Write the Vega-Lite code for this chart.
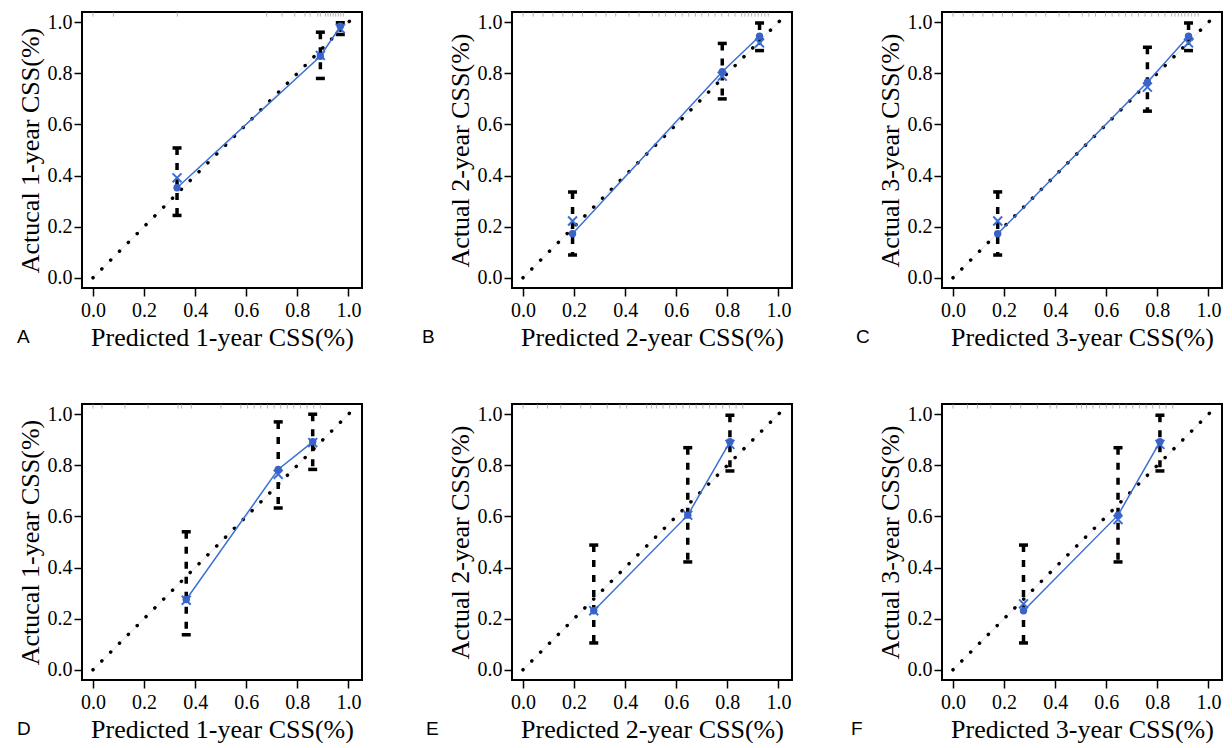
{
  "$schema": "https://vega.github.io/schema/vega-lite/v6.json",
  "background": "white",
  "padding": {"left": 15, "top": 11, "right": 5, "bottom": 0},
  "datasets": {
    "pts": [
      {"panel": "A", "pred": 0.329, "obs": 0.352, "corr": 0.391, "lo": 0.244, "hi": 0.508},
      {"panel": "A", "pred": 0.890, "obs": 0.867, "corr": 0.870, "lo": 0.780, "hi": 0.961},
      {"panel": "A", "pred": 0.968, "obs": 0.984, "corr": 0.975, "lo": 0.952, "hi": 0.998},
      {"panel": "B", "pred": 0.194, "obs": 0.172, "corr": 0.222, "lo": 0.089, "hi": 0.336},
      {"panel": "B", "pred": 0.780, "obs": 0.806, "corr": 0.789, "lo": 0.700, "hi": 0.917},
      {"panel": "B", "pred": 0.926, "obs": 0.945, "corr": 0.919, "lo": 0.889, "hi": 0.997},
      {"panel": "C", "pred": 0.175, "obs": 0.172, "corr": 0.222, "lo": 0.089, "hi": 0.336},
      {"panel": "C", "pred": 0.761, "obs": 0.765, "corr": 0.746, "lo": 0.652, "hi": 0.902},
      {"panel": "C", "pred": 0.922, "obs": 0.945, "corr": 0.919, "lo": 0.889, "hi": 0.997},
      {"panel": "D", "pred": 0.365, "obs": 0.275, "corr": 0.272, "lo": 0.137, "hi": 0.540},
      {"panel": "D", "pred": 0.725, "obs": 0.784, "corr": 0.765, "lo": 0.633, "hi": 0.970},
      {"panel": "D", "pred": 0.860, "obs": 0.892, "corr": 0.889, "lo": 0.784, "hi": 1.000},
      {"panel": "E", "pred": 0.277, "obs": 0.231, "corr": 0.231, "lo": 0.105, "hi": 0.488},
      {"panel": "E", "pred": 0.645, "obs": 0.605, "corr": 0.605, "lo": 0.422, "hi": 0.869},
      {"panel": "E", "pred": 0.810, "obs": 0.892, "corr": 0.882, "lo": 0.778, "hi": 0.996},
      {"panel": "F", "pred": 0.276, "obs": 0.231, "corr": 0.258, "lo": 0.105, "hi": 0.488},
      {"panel": "F", "pred": 0.646, "obs": 0.605, "corr": 0.588, "lo": 0.422, "hi": 0.869},
      {"panel": "F", "pred": 0.810, "obs": 0.892, "corr": 0.882, "lo": 0.778, "hi": 0.996}
    ],
    "diag": [
      {"pred": 0.0, "obs": 0.0},
      {"pred": 1.01, "obs": 1.01}
    ],
    "rug": [
      {"panel": "A", "pred": 0.0}, {"panel": "A", "pred": 0.08}, {"panel": "A", "pred": 0.33},
      {"panel": "A", "pred": 0.68}, {"panel": "A", "pred": 0.74}, {"panel": "A", "pred": 0.79},
      {"panel": "A", "pred": 0.83}, {"panel": "A", "pred": 0.85}, {"panel": "A", "pred": 0.88},
      {"panel": "A", "pred": 0.89}, {"panel": "A", "pred": 0.91}, {"panel": "A", "pred": 0.92},
      {"panel": "A", "pred": 0.93}, {"panel": "A", "pred": 0.94}, {"panel": "A", "pred": 0.95},
      {"panel": "A", "pred": 0.96}, {"panel": "A", "pred": 0.97}, {"panel": "A", "pred": 0.98},
      {"panel": "B", "pred": 0.0}, {"panel": "B", "pred": 0.04}, {"panel": "B", "pred": 0.078},
      {"panel": "B", "pred": 0.117}, {"panel": "B", "pred": 0.156}, {"panel": "B", "pred": 0.194},
      {"panel": "B", "pred": 0.233}, {"panel": "B", "pred": 0.286}, {"panel": "B", "pred": 0.325},
      {"panel": "B", "pred": 0.363}, {"panel": "B", "pred": 0.415}, {"panel": "B", "pred": 0.454},
      {"panel": "B", "pred": 0.506}, {"panel": "B", "pred": 0.532}, {"panel": "B", "pred": 0.558},
      {"panel": "B", "pred": 0.597}, {"panel": "B", "pred": 0.623}, {"panel": "B", "pred": 0.649},
      {"panel": "B", "pred": 0.675}, {"panel": "B", "pred": 0.700}, {"panel": "B", "pred": 0.726},
      {"panel": "B", "pred": 0.752}, {"panel": "B", "pred": 0.778}, {"panel": "B", "pred": 0.804},
      {"panel": "B", "pred": 0.830}, {"panel": "B", "pred": 0.856}, {"panel": "B", "pred": 0.869},
      {"panel": "B", "pred": 0.882}, {"panel": "B", "pred": 0.895}, {"panel": "B", "pred": 0.908},
      {"panel": "B", "pred": 0.921}, {"panel": "B", "pred": 0.934}, {"panel": "B", "pred": 0.947},
      {"panel": "B", "pred": 0.960},
      {"panel": "C", "pred": 0.0}, {"panel": "C", "pred": 0.04}, {"panel": "C", "pred": 0.078},
      {"panel": "C", "pred": 0.117}, {"panel": "C", "pred": 0.156}, {"panel": "C", "pred": 0.194},
      {"panel": "C", "pred": 0.233}, {"panel": "C", "pred": 0.286}, {"panel": "C", "pred": 0.325},
      {"panel": "C", "pred": 0.363}, {"panel": "C", "pred": 0.415}, {"panel": "C", "pred": 0.454},
      {"panel": "C", "pred": 0.506}, {"panel": "C", "pred": 0.532}, {"panel": "C", "pred": 0.558},
      {"panel": "C", "pred": 0.597}, {"panel": "C", "pred": 0.623}, {"panel": "C", "pred": 0.649},
      {"panel": "C", "pred": 0.675}, {"panel": "C", "pred": 0.700}, {"panel": "C", "pred": 0.726},
      {"panel": "C", "pred": 0.752}, {"panel": "C", "pred": 0.778}, {"panel": "C", "pred": 0.804},
      {"panel": "C", "pred": 0.830}, {"panel": "C", "pred": 0.856}, {"panel": "C", "pred": 0.869},
      {"panel": "C", "pred": 0.882}, {"panel": "C", "pred": 0.895}, {"panel": "C", "pred": 0.908},
      {"panel": "C", "pred": 0.921}, {"panel": "C", "pred": 0.934}, {"panel": "C", "pred": 0.947},
      {"panel": "C", "pred": 0.960},
      {"panel": "D", "pred": 0.0}, {"panel": "D", "pred": 0.035}, {"panel": "D", "pred": 0.125},
      {"panel": "D", "pred": 0.216}, {"panel": "D", "pred": 0.333}, {"panel": "D", "pred": 0.346},
      {"panel": "D", "pred": 0.385}, {"panel": "D", "pred": 0.501}, {"panel": "D", "pred": 0.579},
      {"panel": "D", "pred": 0.605}, {"panel": "D", "pred": 0.631}, {"panel": "D", "pred": 0.657},
      {"panel": "D", "pred": 0.683}, {"panel": "D", "pred": 0.709}, {"panel": "D", "pred": 0.735},
      {"panel": "D", "pred": 0.761}, {"panel": "D", "pred": 0.786}, {"panel": "D", "pred": 0.812},
      {"panel": "D", "pred": 0.838}, {"panel": "D", "pred": 0.864}, {"panel": "D", "pred": 0.890},
      {"panel": "E", "pred": 0.0}, {"panel": "E", "pred": 0.057}, {"panel": "E", "pred": 0.096},
      {"panel": "E", "pred": 0.148}, {"panel": "E", "pred": 0.226}, {"panel": "E", "pred": 0.265},
      {"panel": "E", "pred": 0.330}, {"panel": "E", "pred": 0.380}, {"panel": "E", "pred": 0.406},
      {"panel": "E", "pred": 0.484}, {"panel": "E", "pred": 0.503}, {"panel": "E", "pred": 0.523},
      {"panel": "E", "pred": 0.548}, {"panel": "E", "pred": 0.574}, {"panel": "E", "pred": 0.600},
      {"panel": "E", "pred": 0.626}, {"panel": "E", "pred": 0.652}, {"panel": "E", "pred": 0.678},
      {"panel": "E", "pred": 0.704}, {"panel": "E", "pred": 0.730}, {"panel": "E", "pred": 0.756},
      {"panel": "E", "pred": 0.782}, {"panel": "E", "pred": 0.808}, {"panel": "E", "pred": 0.834},
      {"panel": "E", "pred": 0.860},
      {"panel": "F", "pred": 0.0}, {"panel": "F", "pred": 0.057}, {"panel": "F", "pred": 0.096},
      {"panel": "F", "pred": 0.148}, {"panel": "F", "pred": 0.226}, {"panel": "F", "pred": 0.265},
      {"panel": "F", "pred": 0.330}, {"panel": "F", "pred": 0.380}, {"panel": "F", "pred": 0.406},
      {"panel": "F", "pred": 0.484}, {"panel": "F", "pred": 0.503}, {"panel": "F", "pred": 0.523},
      {"panel": "F", "pred": 0.548}, {"panel": "F", "pred": 0.574}, {"panel": "F", "pred": 0.600},
      {"panel": "F", "pred": 0.626}, {"panel": "F", "pred": 0.652}, {"panel": "F", "pred": 0.678},
      {"panel": "F", "pred": 0.704}, {"panel": "F", "pred": 0.730}, {"panel": "F", "pred": 0.756},
      {"panel": "F", "pred": 0.782}, {"panel": "F", "pred": 0.808}, {"panel": "F", "pred": 0.834},
      {"panel": "F", "pred": 0.860}
    ]
  },
  "config": {
    "view": {"stroke": "black", "strokeWidth": 2},
    "axis": {
      "labelFont": "Liberation Serif", "labelFontSize": 20, "labelColor": "black",
      "titleFont": "Liberation Serif", "titleFontSize": 26, "titleFontWeight": "normal", "titleColor": "black",
      "tickColor": "black", "tickWidth": 1.5, "tickSize": 8, "domain": false, "grid": false,
      "labelFlush": false, "labelOverlap": false
    },
    "axisX": {"labelPadding": 4, "titlePadding": 4, "labelFont": "Liberation Serif"},
    "axisY": {"labelPadding": 2, "titlePadding": 4, "labelFont": "Liberation Serif"},
    "tick": {"opacity": 1},
    "title": {"font": "Liberation Sans", "fontSize": 19, "fontWeight": "normal", "color": "black"}
  },
  "columns": 3,
  "bounds": "flush",
  "spacing": {"row": 116, "column": 150},
  "concat": [
    {
      "width": 280, "height": 276,
      "title": {"text": "A", "orient": "bottom", "anchor": "start", "frame": "group", "dx": -65, "offset": -22},
      "encoding": {
        "x": {"field": "pred", "type": "quantitative", "scale": {"domain": [-0.043, 1.053], "nice": false, "zero": false},
              "axis": {"title": "Predicted 1-year CSS(%)", "values": [0, 0.2, 0.4, 0.6, 0.8, 1], "format": ".1f", "labelFont": "Liberation Serif"}}
      },
      "layer": [
        {"data": {"name": "diag"}, "mark": {"type": "line", "color": "#e0e0e0", "strokeWidth": 1},
         "encoding": {"y": {"field": "obs", "type": "quantitative", "scale": {"domain": [-0.04, 1.04], "nice": false, "zero": false},
              "axis": {"title": "Actucal 1-year CSS(%)", "values": [0, 0.2, 0.4, 0.6, 0.8, 1], "format": ".1f", "labelFont": "Liberation Serif"}}}},
        {"data": {"name": "rug"}, "transform": [{"filter": "datum.panel === 'A'"}],
         "mark": {"type": "rule", "color": "#b5b5b5", "strokeWidth": 1},
         "encoding": {"y": {"datum": 1.022, "type": "quantitative"}, "y2": {"datum": 1.038}}},
        {"data": {"name": "diag"}, "mark": {"type": "line", "color": "black", "strokeWidth": 3.5, "strokeCap": "round", "strokeDash": [0.1, 12.4]},
         "encoding": {"y": {"field": "obs", "type": "quantitative"}}},
        {"data": {"name": "pts"}, "transform": [{"filter": "datum.panel === 'A'"}],
         "mark": {"type": "rule", "color": "black", "strokeWidth": 3.5, "strokeDash": [7, 8]},
         "encoding": {"y": {"field": "hi", "type": "quantitative"}, "y2": {"field": "lo"}}},
        {"data": {"name": "pts"}, "transform": [{"filter": "datum.panel === 'A'"}],
         "mark": {"type": "tick", "orient": "horizontal", "color": "black", "size": 9, "thickness": 3.5, "opacity": 1},
         "encoding": {"y": {"field": "hi", "type": "quantitative"}}},
        {"data": {"name": "pts"}, "transform": [{"filter": "datum.panel === 'A'"}],
         "mark": {"type": "tick", "orient": "horizontal", "color": "black", "size": 9, "thickness": 3.5, "opacity": 1},
         "encoding": {"y": {"field": "lo", "type": "quantitative"}}},
        {"data": {"name": "pts"}, "transform": [{"filter": "datum.panel === 'A'"}],
         "mark": {"type": "line", "color": "#3b6fd4", "strokeWidth": 1.5},
         "encoding": {"y": {"field": "obs", "type": "quantitative"}}},
        {"data": {"name": "pts"}, "transform": [{"filter": "datum.panel === 'A'"}],
         "mark": {"type": "point", "shape": "M-1,-1L1,1M-1,1L1,-1", "filled": false, "color": "#3b6fd4", "strokeWidth": 2, "size": 80, "opacity": 1},
         "encoding": {"y": {"field": "corr", "type": "quantitative"}}},
        {"data": {"name": "pts"}, "transform": [{"filter": "datum.panel === 'A'"}],
         "mark": {"type": "point", "shape": "circle", "filled": true, "color": "#3a62c8", "size": 55, "opacity": 1},
         "encoding": {"y": {"field": "obs", "type": "quantitative"}}}
      ]
    },
    {
      "width": 280, "height": 276,
      "title": {"text": "B", "orient": "bottom", "anchor": "start", "frame": "group", "dx": -90, "offset": -22},
      "encoding": {
        "x": {"field": "pred", "type": "quantitative", "scale": {"domain": [-0.043, 1.053], "nice": false, "zero": false},
              "axis": {"title": "Predicted 2-year CSS(%)", "values": [0, 0.2, 0.4, 0.6, 0.8, 1], "format": ".1f", "labelFont": "Liberation Serif"}}
      },
      "layer": [
        {"data": {"name": "diag"}, "mark": {"type": "line", "color": "#e0e0e0", "strokeWidth": 1},
         "encoding": {"y": {"field": "obs", "type": "quantitative", "scale": {"domain": [-0.04, 1.04], "nice": false, "zero": false},
              "axis": {"title": "Actual 2-year CSS(%)", "values": [0, 0.2, 0.4, 0.6, 0.8, 1], "format": ".1f", "labelFont": "Liberation Serif"}}}},
        {"data": {"name": "rug"}, "transform": [{"filter": "datum.panel === 'B'"}],
         "mark": {"type": "rule", "color": "#b5b5b5", "strokeWidth": 1},
         "encoding": {"y": {"datum": 1.022, "type": "quantitative"}, "y2": {"datum": 1.038}}},
        {"data": {"name": "diag"}, "mark": {"type": "line", "color": "black", "strokeWidth": 3.5, "strokeCap": "round", "strokeDash": [0.1, 12.4]},
         "encoding": {"y": {"field": "obs", "type": "quantitative"}}},
        {"data": {"name": "pts"}, "transform": [{"filter": "datum.panel === 'B'"}],
         "mark": {"type": "rule", "color": "black", "strokeWidth": 3.5, "strokeDash": [7, 8]},
         "encoding": {"y": {"field": "hi", "type": "quantitative"}, "y2": {"field": "lo"}}},
        {"data": {"name": "pts"}, "transform": [{"filter": "datum.panel === 'B'"}],
         "mark": {"type": "tick", "orient": "horizontal", "color": "black", "size": 9, "thickness": 3.5, "opacity": 1},
         "encoding": {"y": {"field": "hi", "type": "quantitative"}}},
        {"data": {"name": "pts"}, "transform": [{"filter": "datum.panel === 'B'"}],
         "mark": {"type": "tick", "orient": "horizontal", "color": "black", "size": 9, "thickness": 3.5, "opacity": 1},
         "encoding": {"y": {"field": "lo", "type": "quantitative"}}},
        {"data": {"name": "pts"}, "transform": [{"filter": "datum.panel === 'B'"}],
         "mark": {"type": "line", "color": "#3b6fd4", "strokeWidth": 1.5},
         "encoding": {"y": {"field": "obs", "type": "quantitative"}}},
        {"data": {"name": "pts"}, "transform": [{"filter": "datum.panel === 'B'"}],
         "mark": {"type": "point", "shape": "M-1,-1L1,1M-1,1L1,-1", "filled": false, "color": "#3b6fd4", "strokeWidth": 2, "size": 80, "opacity": 1},
         "encoding": {"y": {"field": "corr", "type": "quantitative"}}},
        {"data": {"name": "pts"}, "transform": [{"filter": "datum.panel === 'B'"}],
         "mark": {"type": "point", "shape": "circle", "filled": true, "color": "#3a62c8", "size": 55, "opacity": 1},
         "encoding": {"y": {"field": "obs", "type": "quantitative"}}}
      ]
    },
    {
      "width": 280, "height": 276,
      "title": {"text": "C", "orient": "bottom", "anchor": "start", "frame": "group", "dx": -86, "offset": -22},
      "encoding": {
        "x": {"field": "pred", "type": "quantitative", "scale": {"domain": [-0.043, 1.053], "nice": false, "zero": false},
              "axis": {"title": "Predicted 3-year CSS(%)", "values": [0, 0.2, 0.4, 0.6, 0.8, 1], "format": ".1f", "labelFont": "Liberation Serif"}}
      },
      "layer": [
        {"data": {"name": "diag"}, "mark": {"type": "line", "color": "#e0e0e0", "strokeWidth": 1},
         "encoding": {"y": {"field": "obs", "type": "quantitative", "scale": {"domain": [-0.04, 1.04], "nice": false, "zero": false},
              "axis": {"title": "Actual 3-year CSS(%)", "values": [0, 0.2, 0.4, 0.6, 0.8, 1], "format": ".1f", "labelFont": "Liberation Serif"}}}},
        {"data": {"name": "rug"}, "transform": [{"filter": "datum.panel === 'C'"}],
         "mark": {"type": "rule", "color": "#b5b5b5", "strokeWidth": 1},
         "encoding": {"y": {"datum": 1.022, "type": "quantitative"}, "y2": {"datum": 1.038}}},
        {"data": {"name": "diag"}, "mark": {"type": "line", "color": "black", "strokeWidth": 3.5, "strokeCap": "round", "strokeDash": [0.1, 12.4]},
         "encoding": {"y": {"field": "obs", "type": "quantitative"}}},
        {"data": {"name": "pts"}, "transform": [{"filter": "datum.panel === 'C'"}],
         "mark": {"type": "rule", "color": "black", "strokeWidth": 3.5, "strokeDash": [7, 8]},
         "encoding": {"y": {"field": "hi", "type": "quantitative"}, "y2": {"field": "lo"}}},
        {"data": {"name": "pts"}, "transform": [{"filter": "datum.panel === 'C'"}],
         "mark": {"type": "tick", "orient": "horizontal", "color": "black", "size": 9, "thickness": 3.5, "opacity": 1},
         "encoding": {"y": {"field": "hi", "type": "quantitative"}}},
        {"data": {"name": "pts"}, "transform": [{"filter": "datum.panel === 'C'"}],
         "mark": {"type": "tick", "orient": "horizontal", "color": "black", "size": 9, "thickness": 3.5, "opacity": 1},
         "encoding": {"y": {"field": "lo", "type": "quantitative"}}},
        {"data": {"name": "pts"}, "transform": [{"filter": "datum.panel === 'C'"}],
         "mark": {"type": "line", "color": "#3b6fd4", "strokeWidth": 1.5},
         "encoding": {"y": {"field": "obs", "type": "quantitative"}}},
        {"data": {"name": "pts"}, "transform": [{"filter": "datum.panel === 'C'"}],
         "mark": {"type": "point", "shape": "M-1,-1L1,1M-1,1L1,-1", "filled": false, "color": "#3b6fd4", "strokeWidth": 2, "size": 80, "opacity": 1},
         "encoding": {"y": {"field": "corr", "type": "quantitative"}}},
        {"data": {"name": "pts"}, "transform": [{"filter": "datum.panel === 'C'"}],
         "mark": {"type": "point", "shape": "circle", "filled": true, "color": "#3a62c8", "size": 55, "opacity": 1},
         "encoding": {"y": {"field": "obs", "type": "quantitative"}}}
      ]
    },
    {
      "width": 280, "height": 276,
      "title": {"text": "D", "orient": "bottom", "anchor": "start", "frame": "group", "dx": -65, "offset": -22},
      "encoding": {
        "x": {"field": "pred", "type": "quantitative", "scale": {"domain": [-0.043, 1.053], "nice": false, "zero": false},
              "axis": {"title": "Predicted 1-year CSS(%)", "values": [0, 0.2, 0.4, 0.6, 0.8, 1], "format": ".1f", "labelFont": "Liberation Serif"}}
      },
      "layer": [
        {"data": {"name": "diag"}, "mark": {"type": "line", "color": "#e0e0e0", "strokeWidth": 1},
         "encoding": {"y": {"field": "obs", "type": "quantitative", "scale": {"domain": [-0.04, 1.04], "nice": false, "zero": false},
              "axis": {"title": "Actucal 1-year CSS(%)", "values": [0, 0.2, 0.4, 0.6, 0.8, 1], "format": ".1f", "labelFont": "Liberation Serif"}}}},
        {"data": {"name": "rug"}, "transform": [{"filter": "datum.panel === 'D'"}],
         "mark": {"type": "rule", "color": "#b5b5b5", "strokeWidth": 1},
         "encoding": {"y": {"datum": 1.022, "type": "quantitative"}, "y2": {"datum": 1.038}}},
        {"data": {"name": "diag"}, "mark": {"type": "line", "color": "black", "strokeWidth": 3.5, "strokeCap": "round", "strokeDash": [0.1, 12.4]},
         "encoding": {"y": {"field": "obs", "type": "quantitative"}}},
        {"data": {"name": "pts"}, "transform": [{"filter": "datum.panel === 'D'"}],
         "mark": {"type": "rule", "color": "black", "strokeWidth": 3.5, "strokeDash": [7, 8]},
         "encoding": {"y": {"field": "hi", "type": "quantitative"}, "y2": {"field": "lo"}}},
        {"data": {"name": "pts"}, "transform": [{"filter": "datum.panel === 'D'"}],
         "mark": {"type": "tick", "orient": "horizontal", "color": "black", "size": 9, "thickness": 3.5, "opacity": 1},
         "encoding": {"y": {"field": "hi", "type": "quantitative"}}},
        {"data": {"name": "pts"}, "transform": [{"filter": "datum.panel === 'D'"}],
         "mark": {"type": "tick", "orient": "horizontal", "color": "black", "size": 9, "thickness": 3.5, "opacity": 1},
         "encoding": {"y": {"field": "lo", "type": "quantitative"}}},
        {"data": {"name": "pts"}, "transform": [{"filter": "datum.panel === 'D'"}],
         "mark": {"type": "line", "color": "#3b6fd4", "strokeWidth": 1.5},
         "encoding": {"y": {"field": "obs", "type": "quantitative"}}},
        {"data": {"name": "pts"}, "transform": [{"filter": "datum.panel === 'D'"}],
         "mark": {"type": "point", "shape": "M-1,-1L1,1M-1,1L1,-1", "filled": false, "color": "#3b6fd4", "strokeWidth": 2, "size": 80, "opacity": 1},
         "encoding": {"y": {"field": "corr", "type": "quantitative"}}},
        {"data": {"name": "pts"}, "transform": [{"filter": "datum.panel === 'D'"}],
         "mark": {"type": "point", "shape": "circle", "filled": true, "color": "#3a62c8", "size": 55, "opacity": 1},
         "encoding": {"y": {"field": "obs", "type": "quantitative"}}}
      ]
    },
    {
      "width": 280, "height": 276,
      "title": {"text": "E", "orient": "bottom", "anchor": "start", "frame": "group", "dx": -86, "offset": -22},
      "encoding": {
        "x": {"field": "pred", "type": "quantitative", "scale": {"domain": [-0.043, 1.053], "nice": false, "zero": false},
              "axis": {"title": "Predicted 2-year CSS(%)", "values": [0, 0.2, 0.4, 0.6, 0.8, 1], "format": ".1f", "labelFont": "Liberation Serif"}}
      },
      "layer": [
        {"data": {"name": "diag"}, "mark": {"type": "line", "color": "#e0e0e0", "strokeWidth": 1},
         "encoding": {"y": {"field": "obs", "type": "quantitative", "scale": {"domain": [-0.04, 1.04], "nice": false, "zero": false},
              "axis": {"title": "Actual 2-year CSS(%)", "values": [0, 0.2, 0.4, 0.6, 0.8, 1], "format": ".1f", "labelFont": "Liberation Serif"}}}},
        {"data": {"name": "rug"}, "transform": [{"filter": "datum.panel === 'E'"}],
         "mark": {"type": "rule", "color": "#b5b5b5", "strokeWidth": 1},
         "encoding": {"y": {"datum": 1.022, "type": "quantitative"}, "y2": {"datum": 1.038}}},
        {"data": {"name": "diag"}, "mark": {"type": "line", "color": "black", "strokeWidth": 3.5, "strokeCap": "round", "strokeDash": [0.1, 12.4]},
         "encoding": {"y": {"field": "obs", "type": "quantitative"}}},
        {"data": {"name": "pts"}, "transform": [{"filter": "datum.panel === 'E'"}],
         "mark": {"type": "rule", "color": "black", "strokeWidth": 3.5, "strokeDash": [7, 8]},
         "encoding": {"y": {"field": "hi", "type": "quantitative"}, "y2": {"field": "lo"}}},
        {"data": {"name": "pts"}, "transform": [{"filter": "datum.panel === 'E'"}],
         "mark": {"type": "tick", "orient": "horizontal", "color": "black", "size": 9, "thickness": 3.5, "opacity": 1},
         "encoding": {"y": {"field": "hi", "type": "quantitative"}}},
        {"data": {"name": "pts"}, "transform": [{"filter": "datum.panel === 'E'"}],
         "mark": {"type": "tick", "orient": "horizontal", "color": "black", "size": 9, "thickness": 3.5, "opacity": 1},
         "encoding": {"y": {"field": "lo", "type": "quantitative"}}},
        {"data": {"name": "pts"}, "transform": [{"filter": "datum.panel === 'E'"}],
         "mark": {"type": "line", "color": "#3b6fd4", "strokeWidth": 1.5},
         "encoding": {"y": {"field": "obs", "type": "quantitative"}}},
        {"data": {"name": "pts"}, "transform": [{"filter": "datum.panel === 'E'"}],
         "mark": {"type": "point", "shape": "M-1,-1L1,1M-1,1L1,-1", "filled": false, "color": "#3b6fd4", "strokeWidth": 2, "size": 80, "opacity": 1},
         "encoding": {"y": {"field": "corr", "type": "quantitative"}}},
        {"data": {"name": "pts"}, "transform": [{"filter": "datum.panel === 'E'"}],
         "mark": {"type": "point", "shape": "circle", "filled": true, "color": "#3a62c8", "size": 55, "opacity": 1},
         "encoding": {"y": {"field": "obs", "type": "quantitative"}}}
      ]
    },
    {
      "width": 280, "height": 276,
      "title": {"text": "F", "orient": "bottom", "anchor": "start", "frame": "group", "dx": -91, "offset": -22},
      "encoding": {
        "x": {"field": "pred", "type": "quantitative", "scale": {"domain": [-0.043, 1.053], "nice": false, "zero": false},
              "axis": {"title": "Predicted 3-year CSS(%)", "values": [0, 0.2, 0.4, 0.6, 0.8, 1], "format": ".1f", "labelFont": "Liberation Serif"}}
      },
      "layer": [
        {"data": {"name": "diag"}, "mark": {"type": "line", "color": "#e0e0e0", "strokeWidth": 1},
         "encoding": {"y": {"field": "obs", "type": "quantitative", "scale": {"domain": [-0.04, 1.04], "nice": false, "zero": false},
              "axis": {"title": "Actual 3-year CSS(%)", "values": [0, 0.2, 0.4, 0.6, 0.8, 1], "format": ".1f", "labelFont": "Liberation Serif"}}}},
        {"data": {"name": "rug"}, "transform": [{"filter": "datum.panel === 'F'"}],
         "mark": {"type": "rule", "color": "#b5b5b5", "strokeWidth": 1},
         "encoding": {"y": {"datum": 1.022, "type": "quantitative"}, "y2": {"datum": 1.038}}},
        {"data": {"name": "diag"}, "mark": {"type": "line", "color": "black", "strokeWidth": 3.5, "strokeCap": "round", "strokeDash": [0.1, 12.4]},
         "encoding": {"y": {"field": "obs", "type": "quantitative"}}},
        {"data": {"name": "pts"}, "transform": [{"filter": "datum.panel === 'F'"}],
         "mark": {"type": "rule", "color": "black", "strokeWidth": 3.5, "strokeDash": [7, 8]},
         "encoding": {"y": {"field": "hi", "type": "quantitative"}, "y2": {"field": "lo"}}},
        {"data": {"name": "pts"}, "transform": [{"filter": "datum.panel === 'F'"}],
         "mark": {"type": "tick", "orient": "horizontal", "color": "black", "size": 9, "thickness": 3.5, "opacity": 1},
         "encoding": {"y": {"field": "hi", "type": "quantitative"}}},
        {"data": {"name": "pts"}, "transform": [{"filter": "datum.panel === 'F'"}],
         "mark": {"type": "tick", "orient": "horizontal", "color": "black", "size": 9, "thickness": 3.5, "opacity": 1},
         "encoding": {"y": {"field": "lo", "type": "quantitative"}}},
        {"data": {"name": "pts"}, "transform": [{"filter": "datum.panel === 'F'"}],
         "mark": {"type": "line", "color": "#3b6fd4", "strokeWidth": 1.5},
         "encoding": {"y": {"field": "obs", "type": "quantitative"}}},
        {"data": {"name": "pts"}, "transform": [{"filter": "datum.panel === 'F'"}],
         "mark": {"type": "point", "shape": "M-1,-1L1,1M-1,1L1,-1", "filled": false, "color": "#3b6fd4", "strokeWidth": 2, "size": 80, "opacity": 1},
         "encoding": {"y": {"field": "corr", "type": "quantitative"}}},
        {"data": {"name": "pts"}, "transform": [{"filter": "datum.panel === 'F'"}],
         "mark": {"type": "point", "shape": "circle", "filled": true, "color": "#3a62c8", "size": 55, "opacity": 1},
         "encoding": {"y": {"field": "obs", "type": "quantitative"}}}
      ]
    }
  ]
}
